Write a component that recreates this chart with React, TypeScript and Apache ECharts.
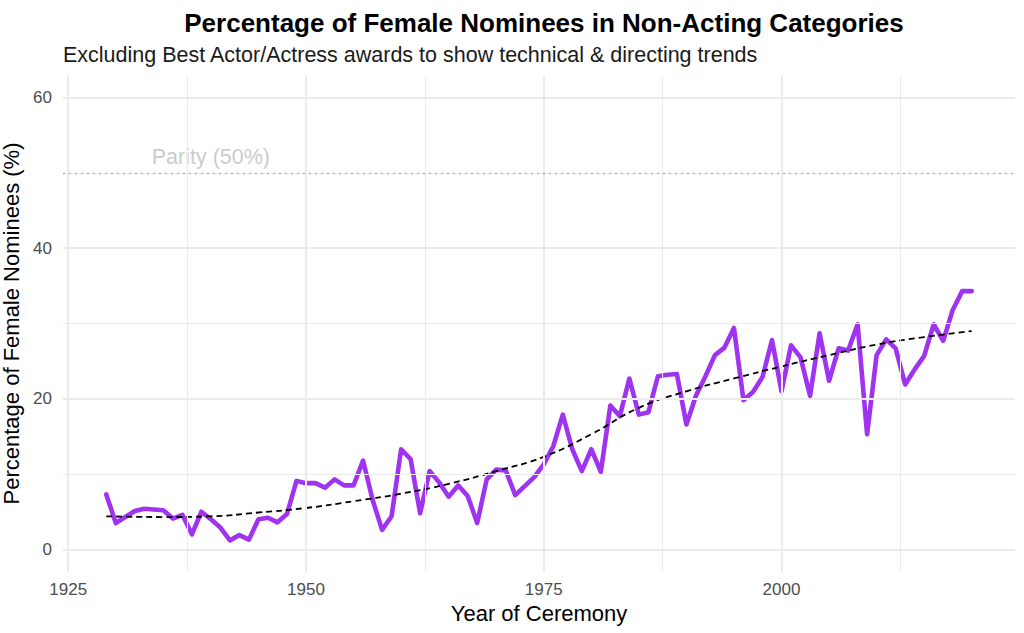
import { useEffect, useRef } from 'react';
import * as echarts from 'echarts';

// ceremony years and share of female nominees outside the acting categories
const years = [
  1929, 1930, 1931, 1932, 1933, 1934, 1935, 1936, 1937, 1938,
  1939, 1940, 1941, 1942, 1943, 1944, 1945, 1946, 1947, 1948,
  1949, 1950, 1951, 1952, 1953, 1954, 1955, 1956, 1957, 1958,
  1959, 1960, 1961, 1962, 1963, 1964, 1965, 1966, 1967, 1968,
  1969, 1970, 1971, 1972, 1973, 1974, 1975, 1976, 1977, 1978,
  1979, 1980, 1981, 1982, 1983, 1984, 1985, 1986, 1987, 1988,
  1989, 1990, 1991, 1992, 1993, 1994, 1995, 1996, 1997, 1998,
  1999, 2000, 2001, 2002, 2003, 2004, 2005, 2006, 2007, 2008,
  2009, 2010, 2011, 2012, 2013, 2014, 2015, 2016, 2017, 2018,
  2019, 2020,
];
const femalePct = [
  7.3, 3.5, 4.3, 5.1, 5.4, 5.3, 5.2, 4.1, 4.6, 2.0,
  5.0, 4.0, 2.9, 1.2, 1.9, 1.3, 4.0, 4.2, 3.6, 4.7,
  9.1, 8.8, 8.8, 8.2, 9.3, 8.5, 8.5, 11.8, 6.6, 2.6,
  4.4, 13.3, 12.0, 4.8, 10.4, 8.9, 7.0, 8.5, 7.1, 3.5,
  9.3, 10.6, 10.5, 7.2, 8.4, 9.6, 11.3, 13.7, 17.9, 13.3,
  10.4, 13.3, 10.3, 19.1, 17.7, 22.7, 17.9, 18.2, 23.0, 23.2,
  23.3, 16.6, 20.4, 23.0, 25.8, 26.8, 29.4, 19.8, 20.9, 22.9,
  27.8, 21.0, 27.1, 25.5, 20.4, 28.7, 22.4, 26.7, 26.4, 29.9,
  15.3, 25.8, 27.9, 26.7, 21.9, 23.9, 25.7, 29.9, 27.7, 31.8,
  34.3, 34.3,
];

// smoothed trend (loess) read at a few points
const trendYears = [1929, 1935, 1940, 1945, 1950, 1955, 1960, 1965, 1970, 1975, 1980, 1985, 1990, 1995, 2000, 2005, 2010, 2015, 2020];
const trendPct = [4.4, 4.3, 4.4, 4.9, 5.5, 6.4, 7.4, 8.7, 10.4, 12.3, 15.3, 18.8, 21.0, 22.7, 24.3, 25.8, 27.2, 28.2, 29.0];

const xTicks = [1925, 1950, 1975, 2000];
const xMinor = [1937.5, 1962.5, 1987.5, 2012.5];
const yTicks = [0, 20, 40, 60];
const yMinor = [10, 30, 50];
const parity = 50;
const parityLabel = { year: 1940, pct: 52.1, text: 'Parity (50%)' };

const FONT = '"Liberation Sans", Arial, sans-serif';
const GRID = '#ebebeb';

function gridLines(axis: 'xAxis' | 'yAxis', values: number[], width: number) {
  return values.map((v) => ({ [axis]: v, lineStyle: { color: GRID, width, type: 'solid' } }));
}

export default function App() {
  const ref = useRef<HTMLDivElement | null>(null);

  useEffect(() => {
    if (!ref.current) return;
    const chart = echarts.init(ref.current, undefined, { renderer: 'svg' });
    chart.setOption({
      animation: false,
      backgroundColor: '#ffffff',
      textStyle: { fontFamily: FONT },
      title: [
        {
          text: 'Percentage of Female Nominees in Non-Acting Categories',
          left: 539,
          top: 5,
          textAlign: 'center',
          textStyle: { fontSize: 26, fontWeight: 'bold', color: '#000', fontFamily: FONT },
        },
        {
          text: 'Excluding Best Actor/Actress awards to show technical & directing trends',
          left: 58,
          top: 39,
          textStyle: { fontSize: 21.5, fontWeight: 'normal', color: '#1a1a1a', fontFamily: FONT },
        },
      ],
      grid: { left: 63, right: 9, top: 75, bottom: 61, containLabel: false, outerBoundsMode: 'none' },
      xAxis: {
        type: 'value',
        min: 1924.45,
        max: 2024.55,
        name: 'Year of Ceremony',
        nameLocation: 'middle',
        nameGap: 28,
        nameTextStyle: { fontSize: 22, color: '#000', fontFamily: FONT },
        axisLine: { show: false },
        axisTick: { show: false },
        splitLine: { show: false },
        axisLabel: {
          customValues: xTicks,
          fontSize: 17,
          color: '#4d4d4d',
          margin: 9,
          fontFamily: FONT,
          formatter: (v: number) => String(v),
        },
      },
      yAxis: {
        type: 'value',
        min: -3,
        max: 63,
        name: 'Percentage of Female Nominees (%)',
        nameLocation: 'middle',
        nameGap: 32,
        nameRotate: 90,
        nameTextStyle: { fontSize: 22, color: '#000', fontFamily: FONT },
        axisLine: { show: false },
        axisTick: { show: false },
        splitLine: { show: false },
        axisLabel: {
          customValues: yTicks,
          fontSize: 17,
          color: '#4d4d4d',
          margin: 11,
          fontFamily: FONT,
          formatter: (v: number) => String(v),
        },
      },
      series: [
        {
          type: 'line',
          name: 'grid',
          data: [],
          silent: true,
          z: 0,
          markLine: {
            silent: true,
            symbol: 'none',
            label: { show: false },
            data: [
              ...gridLines('xAxis', xMinor, 1),
              ...gridLines('yAxis', yMinor, 1),
              ...gridLines('xAxis', xTicks, 2),
              ...gridLines('yAxis', yTicks, 2),
            ],
          },
        },
        {
          type: 'line',
          name: 'parity',
          data: [],
          silent: true,
          z: 1,
          markLine: {
            silent: true,
            symbol: 'none',
            label: { show: false },
            data: [{ yAxis: parity, lineStyle: { color: '#b5b5b5', width: 1.4, type: [2, 4] } }],
          },
        },
        {
          type: 'scatter',
          name: 'parityLabel',
          data: [[parityLabel.year, parityLabel.pct]],
          symbolSize: 0,
          silent: true,
          z: 2,
          label: {
            show: true,
            position: 'inside',
            formatter: parityLabel.text,
            fontSize: 21.5,
            color: '#bdbdbd',
            fontFamily: FONT,
          },
        },
        {
          type: 'line',
          name: 'female',
          data: years.map((y, i) => [y, femalePct[i]]),
          showSymbol: false,
          z: 3,
          lineStyle: { color: '#a033f0', width: 4.6, join: 'round', cap: 'round' },
          itemStyle: { color: '#a033f0' },
        },
        {
          type: 'line',
          name: 'trend',
          data: trendYears.map((y, i) => [y, trendPct[i]]),
          smooth: true,
          showSymbol: false,
          z: 4,
          lineStyle: { color: '#000', width: 1.8, type: [6, 4] },
          itemStyle: { color: '#000' },
        },
      ],
    });
    const onResize = () => chart.resize();
    window.addEventListener('resize', onResize);
    return () => {
      window.removeEventListener('resize', onResize);
      chart.dispose();
    };
  }, []);

  return <div ref={ref} style={{ width: 1024, height: 633, position: 'absolute', left: 0, top: 0 }} />;
}
